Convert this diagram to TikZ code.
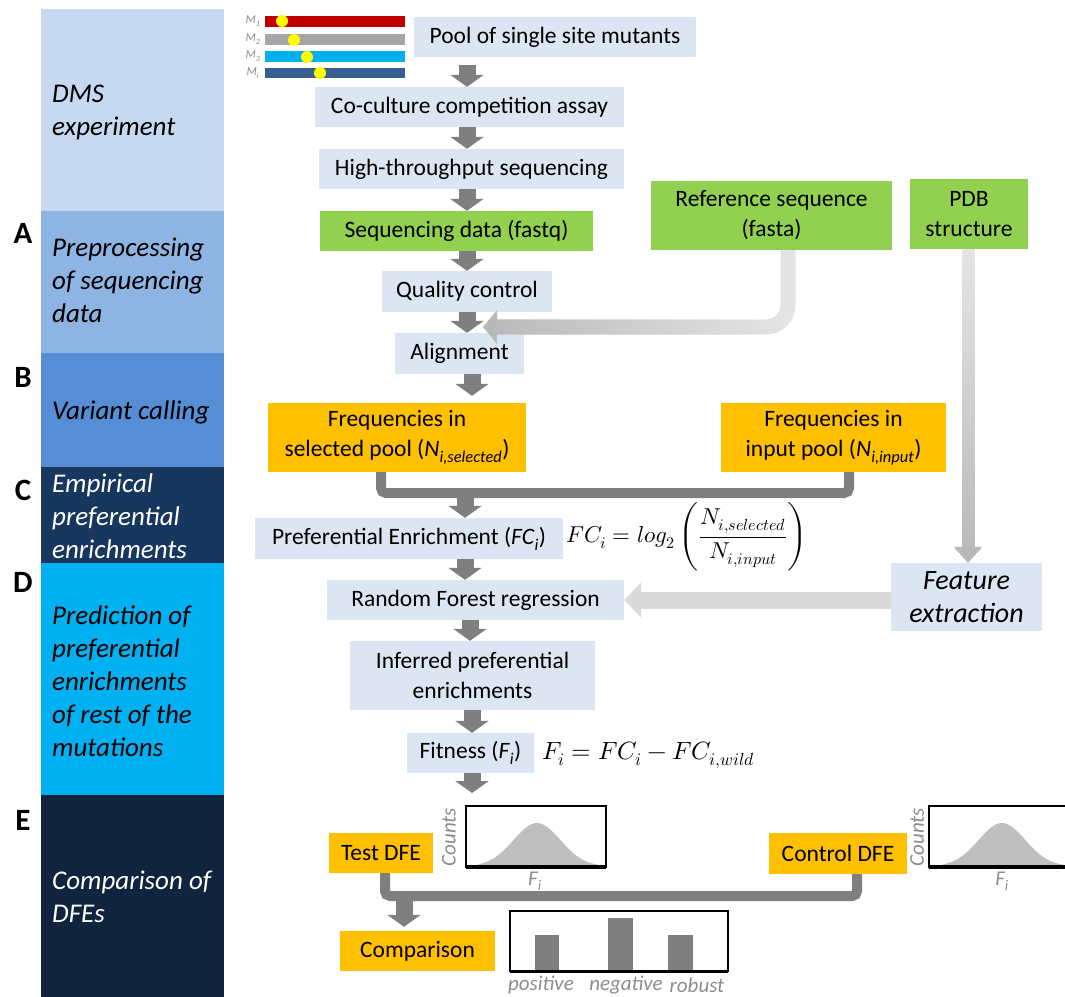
\documentclass[tikz,border=0pt]{standalone}
\usepackage{fontspec}
\usepackage{unicode-math}
\setmainfont{Carlito}
\usetikzlibrary{arrows.meta,calc,fadings}
\definecolor{bandDMS}{HTML}{C6D9F0}
\definecolor{bandA}{HTML}{8EB4E3}
\definecolor{bandB}{HTML}{558ED5}
\definecolor{bandC}{HTML}{17375E}
\definecolor{bandD}{HTML}{00B0F0}
\definecolor{bandE}{HTML}{10243E}
\definecolor{boxblue}{HTML}{DCE6F2}
\definecolor{boxgreen}{HTML}{92D050}
\definecolor{boxorange}{HTML}{FFC000}
\definecolor{arrgrey}{HTML}{7F7F7F}
\definecolor{lightHi}{HTML}{E6E6E6}
\definecolor{lightLo}{HTML}{B8B8B8}
\definecolor{lightC}{HTML}{D9D9D9}
\definecolor{curvegrey}{HTML}{BFBFBF}
\definecolor{labgrey}{HTML}{8C8C8C}
\definecolor{mred}{HTML}{C00000}
\definecolor{mgrey}{HTML}{A6A6A6}
\definecolor{mcyan}{HTML}{00B0F0}
\definecolor{mblue}{HTML}{376092}
\definecolor{myellow}{HTML}{FFFF00}
\tikzfading[name=myfaderight, left color=transparent!0, right color=transparent!100]
\tikzfading[name=myfadedown, top color=transparent!100, bottom color=transparent!0]
\newcommand{\fsz}[2]{\fontsize{#1}{#2}\selectfont}
\tikzset{
  fbox/.style={inner sep=0pt, align=center, font=\fsz{23.5}{30}},
  lbox/.style={fbox, fill=boxblue},
  gbox/.style={fbox, fill=boxgreen},
  obox/.style={fbox, fill=boxorange},
  flowarrow/.style={draw=arrgrey, line width=17pt, -{Triangle[width=33pt,length=12pt]}},
  mergeline/.style={draw=arrgrey, line width=10pt, rounded corners=5pt},
  refarrow/.style={line width=15pt, rounded corners=22pt, -{Triangle[width=33pt,length=14pt]}},
  pdbarrow/.style={line width=13pt, -{Triangle[width=28pt,length=16pt]}},
  featarrow/.style={draw=lightC, line width=17pt, -{Triangle[width=34pt,length=17pt]}},
  bandtext/.style={anchor=west, align=left, inner sep=0pt, font=\fsz{27}{33}\itshape},
  letter/.style={inner sep=0pt, font=\fsz{31}{31}\bfseries},
  mlabel/.style={inner sep=0pt, text=labgrey, font=\fsz{12}{12}\itshape},
  glabel/.style={inner sep=0pt, text=labgrey, font=\fsz{21}{21}\itshape},
  plotframe/.style={draw=black, line width=2pt},
}
\begin{document}
\begin{tikzpicture}[x=1pt,y=-1pt]
\useasboundingbox (0,0) rectangle (1065,996);
% left bands
\fill[bandDMS] (41,9) rectangle (224,211);
\fill[bandA] (41,211) rectangle (224,353);
\fill[bandB] (41,353) rectangle (224,467);
\fill[bandC] (41,467) rectangle (224,563);
\fill[bandD] (41,563) rectangle (224,795);
\fill[bandE] (41,795) rectangle (224,1000);
\node[bandtext] (tDMS) at (52,112) {DMS\\experiment};
\node[bandtext] (tA) at (52,280) {Preprocessing\\of sequencing\\data};
\node[bandtext] (tB) at (52,412) {Variant calling};
\node[bandtext, text=white] (tC) at (52,516) {Empirical\\preferential\\enrichments};
\node[bandtext] (tD) at (52,681) {Prediction of\\preferential\\enrichments\\of rest of the\\mutations};
\node[bandtext, text=white] (tE) at (52,897) {Comparison of\\DFEs};
\node[letter] (lA) at (23,233) {A};
\node[letter] (lB) at (23,377) {B};
\node[letter] (lC) at (23,490) {C};
\node[letter] (lD) at (23,582) {D};
\node[letter] (lE) at (23,820) {E};
% mutant bars
\fill[mred] (265,16) rectangle (405,27);
\fill[mgrey] (265,34) rectangle (405,45);
\fill[mcyan] (265,51) rectangle (405,62);
\fill[mblue] (265,68) rectangle (405,78);
\fill[myellow] (282,21) circle (6);
\fill[myellow] (294,40) circle (6);
\fill[myellow] (307,57) circle (6);
\fill[myellow] (320,73) circle (6);
\node[mlabel] (m1) at (253,21) {M\textsubscript{1}};
\node[mlabel] (m2) at (253,39) {M\textsubscript{2}};
\node[mlabel] (m3) at (253,56) {M\textsubscript{3}};
\node[mlabel] (mi) at (253,73) {M\textsubscript{i}};
% flow boxes
\node[lbox, minimum width=282pt, minimum height=40pt] (pool) at (555,37) {Pool of single site mutants};
\node[lbox, minimum width=309pt, minimum height=40pt] (cocult) at (469.5,107) {Co-culture competition assay};
\node[lbox, minimum width=305pt, minimum height=40pt] (hts) at (471.5,169) {High-throughput sequencing};
\node[gbox, minimum width=273pt, minimum height=40pt] (seq) at (456.5,231) {Sequencing data (fastq)};
\node[lbox, minimum width=170pt, minimum height=41pt] (qc) at (467,291.5) {Quality control};
\node[lbox, minimum width=129pt, minimum height=41pt] (align) at (459.5,353.5) {Alignment};
\node[obox, minimum width=258pt, minimum height=69pt] (sel) at (397,437.5) {Frequencies in\\selected pool (\textit{N}\textsubscript{\textit{i,selected}})};
\node[obox, minimum width=225pt, minimum height=69pt] (inp) at (833.5,437.5) {Frequencies in\\input pool (\textit{N}\textsubscript{\textit{i,input}})};
\node[lbox, minimum width=308pt, minimum height=41pt] (pref) at (409,538.5) {Preferential Enrichment (\textit{FC}\textsubscript{\textit{i}})};
\node[lbox, minimum width=297pt, minimum height=40pt] (rf) at (475.5,600) {Random Forest regression};
\node[lbox, minimum width=245pt, minimum height=69pt] (inf) at (472.5,675.5) {Inferred preferential\\enrichments};
\node[lbox, minimum width=127pt, minimum height=40pt] (fit) at (470.5,753) {Fitness (\textit{F}\textsubscript{\textit{i}})};
\node[gbox, minimum width=241pt, minimum height=69pt] (ref) at (771.5,215.5) {Reference sequence\\(fasta)};
\node[gbox, minimum width=118pt, minimum height=70pt] (pdb) at (969,214) {PDB\\structure};
\node[lbox, minimum width=151pt, minimum height=68pt, font=\fsz{28}{33}\itshape] (feat) at (966.5,597) {Feature\\extraction};
\node[obox, minimum width=104pt, minimum height=40pt] (test) at (381,853) {Test DFE};
\node[obox, minimum width=138pt, minimum height=41pt] (ctrl) at (838,853.5) {Control DFE};
\node[obox, minimum width=155pt, minimum height=40pt] (comp) at (417.5,951) {Comparison};
% formulas
\node[anchor=west, inner sep=0pt, font=\fsz{23}{26}] (f1) at (566,537) {$\displaystyle FC_i = log_2\left(\frac{N_{i,selected}}{N_{i,input}}\right)$};
\node[anchor=west, inner sep=0pt, font=\fsz{25}{28}] (f2) at (542,755) {$F_i = FC_i - FC_{i,wild}$};
% coordinates
\coordinate (col) at (467,0);
\coordinate (bar1) at (465,493);
\coordinate (bar2) at (404,896);
\coordinate (refend) at (483,327);
\coordinate (fitend) at (472,793);
% flow arrows
\draw[flowarrow, shorten <=8pt] (pool.south -| col) -- (cocult.north -| col);
\draw[flowarrow] (cocult.south -| col) -- (hts.north -| col);
\draw[flowarrow] (hts.south -| col) -- (seq.north -| col);
\draw[flowarrow] (seq.south -| col) -- (qc.north -| col);
\draw[flowarrow] (qc.south -| col) -- (align.north -| col);
\draw[flowarrow, shorten >=7pt] ([xshift=5pt]align.south -| col) -- ([xshift=5pt]sel.north -| col);
\draw[mergeline] ([xshift=-16pt]sel.south) |- (bar1) -| ([xshift=15.5pt]inp.south);
\draw[flowarrow] (bar1) -- (pref.north -| bar1);
\draw[flowarrow] (pref.south -| bar1) -- (rf.north -| bar1);
\draw[flowarrow] ([xshift=3pt]rf.south -| col) -- ([xshift=3pt]inf.north -| col);
\draw[flowarrow] (inf.south -| fitend) -- (fit.north -| fitend);
\draw[flowarrow] (fit.south -| fitend) -- (fitend);
\draw[mergeline] ([xshift=4pt]test.south) |- (bar2) -| ([xshift=19pt]ctrl.south);
\draw[flowarrow, shorten >=4pt] (bar2) -- (comp.north -| bar2);
% light arrows (gradient: base colour plus faded darker overlay)
\draw[refarrow, draw=lightHi] ([xshift=16.5pt]ref.south) |- (refend);
\draw[refarrow, draw=lightLo, path fading=myfaderight] ([xshift=16.5pt]ref.south) |- (refend);
\draw[pdbarrow, draw=lightHi] ([xshift=-1pt]pdb.south) -- ([xshift=-1pt]pdb.south |- feat.north);
\draw[pdbarrow, draw=lightLo, path fading=myfadedown] ([xshift=-1pt]pdb.south) -- ([xshift=-1pt]pdb.south |- feat.north);
\draw[featarrow] (feat.west |- rf.east) -- (rf.east);
% DFE plots
\fill[curvegrey] (478,866) -- plot[domain=478:598, samples=60, smooth] (\x,{866-43*exp(-((\x-537)/33)^2)}) -- (598,866) -- cycle;
\draw[plotframe] (466,806) rectangle (606,867);
\draw[line width=3.5pt] (466,867) -- (606,867);
\node[glabel, rotate=90] (cnt1) at (449,837) {Counts};
\node[glabel] (fi1) at (535,881) {F\textsubscript{i}};
\fill[curvegrey] (943,866) -- plot[domain=943:1063, samples=60, smooth] (\x,{866-43*exp(-((\x-1002)/33)^2)}) -- (1063,866) -- cycle;
\draw[plotframe] (929,806) rectangle (1075,867);
\draw[line width=3.5pt] (929,867) -- (1075,867);
\node[glabel, rotate=90] (cnt2) at (917,837) {Counts};
\node[glabel] (fi2) at (1002,881) {F\textsubscript{i}};
% bar chart
\fill[arrgrey] (535,935) rectangle (559,971);
\fill[arrgrey] (608,918) rectangle (633,971);
\fill[arrgrey] (668,935) rectangle (693,971);
\draw[plotframe] (510,911) rectangle (728,971);
\draw[line width=3pt] (510,971) -- (728,971);
\node[glabel] (lpos) at (541,985) {positive};
\node[glabel] (lneg) at (626,985) {negative};
\node[glabel] (lrob) at (697,985) {robust};
\end{tikzpicture}
\end{document}
